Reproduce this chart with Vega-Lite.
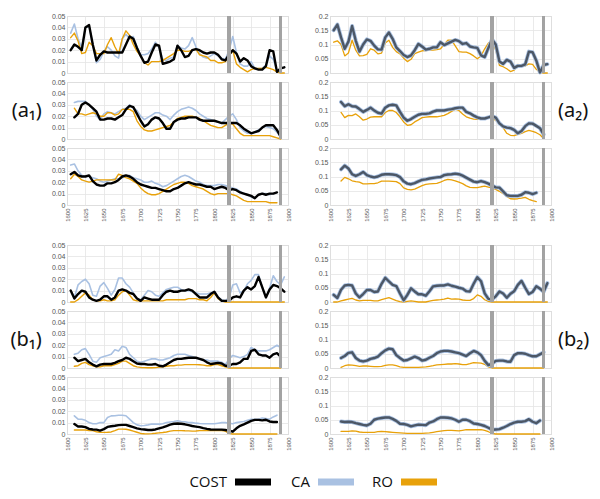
{
"$schema": "https://vega.github.io/schema/vega-lite/v6.json",
"background": "white",
"padding": {"left": 9, "top": 11, "right": 2, "bottom": 2},
"config": {
  "view": {"stroke": "#c4c4c4", "strokeWidth": 1},
  "axis": {"labelFont": "Liberation Sans", "labelFontSize": 7, "labelColor": "#555555", "gridColor": "#e4e4e4", "gridWidth": 0.8, "domain": false, "ticks": false, "labelPadding": 2, "titleFont": "Noto Sans", "titleFontSize": 20, "titleFontWeight": "normal", "titleColor": "#111111"},
  "line": {"strokeJoin": "round", "strokeCap": "round"}
},
"datasets": {"d": [
{"p":"a1_1","year":1605,"COST":0.020,"CA":0.035,"RO":0.031},
{"p":"a1_1","year":1610,"COST":0.025,"CA":0.043,"RO":0.035},
{"p":"a1_1","year":1615,"COST":0.023,"CA":0.030,"RO":0.028},
{"p":"a1_1","year":1620,"COST":0.020,"CA":0.022,"RO":0.017},
{"p":"a1_1","year":1625,"COST":0.040,"CA":0.040,"RO":0.018},
{"p":"a1_1","year":1630,"COST":0.042,"CA":0.041,"RO":0.027},
{"p":"a1_1","year":1635,"COST":0.025,"CA":0.025,"RO":0.024},
{"p":"a1_1","year":1640,"COST":0.011,"CA":0.009,"RO":0.017},
{"p":"a1_1","year":1645,"COST":0.016,"CA":0.012,"RO":0.017},
{"p":"a1_1","year":1650,"COST":0.019,"CA":0.019,"RO":0.017},
{"p":"a1_1","year":1655,"COST":0.018,"CA":0.023,"RO":0.025},
{"p":"a1_1","year":1660,"COST":0.018,"CA":0.020,"RO":0.031},
{"p":"a1_1","year":1665,"COST":0.018,"CA":0.015,"RO":0.023},
{"p":"a1_1","year":1670,"COST":0.018,"CA":0.013,"RO":0.017},
{"p":"a1_1","year":1675,"COST":0.018,"CA":0.030,"RO":0.030},
{"p":"a1_1","year":1680,"COST":0.025,"CA":0.034,"RO":0.037},
{"p":"a1_1","year":1685,"COST":0.032,"CA":0.030,"RO":0.033},
{"p":"a1_1","year":1690,"COST":0.030,"CA":0.032,"RO":0.025},
{"p":"a1_1","year":1695,"COST":0.022,"CA":0.023,"RO":0.019},
{"p":"a1_1","year":1700,"COST":0.015,"CA":0.016,"RO":0.015},
{"p":"a1_1","year":1705,"COST":0.009,"CA":0.016,"RO":0.009},
{"p":"a1_1","year":1710,"COST":0.010,"CA":0.017,"RO":0.007},
{"p":"a1_1","year":1715,"COST":0.018,"CA":0.021,"RO":0.010},
{"p":"a1_1","year":1720,"COST":0.025,"CA":0.027,"RO":0.010},
{"p":"a1_1","year":1725,"COST":0.024,"CA":0.022,"RO":0.010},
{"p":"a1_1","year":1730,"COST":0.008,"CA":0.012,"RO":0.011},
{"p":"a1_1","year":1735,"COST":0.009,"CA":0.011,"RO":0.013},
{"p":"a1_1","year":1740,"COST":0.010,"CA":0.013,"RO":0.015},
{"p":"a1_1","year":1745,"COST":0.012,"CA":0.014,"RO":0.017},
{"p":"a1_1","year":1750,"COST":0.024,"CA":0.024,"RO":0.020},
{"p":"a1_1","year":1755,"COST":0.020,"CA":0.022,"RO":0.020},
{"p":"a1_1","year":1760,"COST":0.014,"CA":0.021,"RO":0.019},
{"p":"a1_1","year":1765,"COST":0.015,"CA":0.024,"RO":0.019},
{"p":"a1_1","year":1770,"COST":0.020,"CA":0.031,"RO":0.020},
{"p":"a1_1","year":1775,"COST":0.021,"CA":0.023,"RO":0.021},
{"p":"a1_1","year":1780,"COST":0.020,"CA":0.017,"RO":0.016},
{"p":"a1_1","year":1785,"COST":0.018,"CA":0.014,"RO":0.015},
{"p":"a1_1","year":1790,"COST":0.017,"CA":0.013,"RO":0.014},
{"p":"a1_1","year":1795,"COST":0.018,"CA":0.015,"RO":0.011},
{"p":"a1_1","year":1800,"COST":0.018,"CA":0.017,"RO":0.011},
{"p":"a1_1","year":1805,"COST":0.016,"CA":0.015,"RO":0.009},
{"p":"a1_1","year":1810,"COST":0.012,"CA":0.013,"RO":0.009},
{"p":"a1_1","year":1815,"COST":0.011,"CA":0.012,"RO":0.010},
{"p":"a1_1","year":1820,"COST":0.016,"CA":0.020,"RO":0.015},
{"p":"a1_1","year":1825,"COST":0.020,"CA":0.032,"RO":0.020},
{"p":"a1_1","year":1830,"COST":0.017,"CA":0.018,"RO":0.008},
{"p":"a1_1","year":1835,"COST":0.010,"CA":0.008,"RO":0.005},
{"p":"a1_1","year":1840,"COST":0.013,"CA":0.006,"RO":0.003},
{"p":"a1_1","year":1845,"COST":0.011,"CA":0.006,"RO":0.001},
{"p":"a1_1","year":1850,"COST":0.006,"CA":0.010,"RO":0.003},
{"p":"a1_1","year":1855,"COST":0.004,"CA":0.004,"RO":0.004},
{"p":"a1_1","year":1860,"COST":0.003,"CA":0.004,"RO":0.004},
{"p":"a1_1","year":1865,"COST":0.003,"CA":0.004,"RO":0.004},
{"p":"a1_1","year":1870,"COST":0.006,"CA":0.007,"RO":0.005},
{"p":"a1_1","year":1875,"COST":0.020,"CA":0.015,"RO":0.004},
{"p":"a1_1","year":1880,"COST":0.019,"CA":0.012,"RO":0.003},
{"p":"a1_1","year":1885,"COST":0.001,"CA":0.002,"RO":0.001},
{"p":"a1_1","year":1890,"COST":0.004,"CA":0.004,"RO":0.000},
{"p":"a1_1","year":1895,"COST":0.005,"CA":0.005,"RO":0.000},
{"p":"a1_2","year":1610,"COST":0.019,"CA":0.032,"RO":0.027},
{"p":"a1_2","year":1615,"COST":0.022,"CA":0.033,"RO":0.022},
{"p":"a1_2","year":1620,"COST":0.030,"CA":0.033,"RO":0.022},
{"p":"a1_2","year":1625,"COST":0.032,"CA":0.033,"RO":0.021},
{"p":"a1_2","year":1630,"COST":0.030,"CA":0.030,"RO":0.022},
{"p":"a1_2","year":1635,"COST":0.027,"CA":0.026,"RO":0.023},
{"p":"a1_2","year":1640,"COST":0.024,"CA":0.020,"RO":0.022},
{"p":"a1_2","year":1645,"COST":0.017,"CA":0.017,"RO":0.020},
{"p":"a1_2","year":1650,"COST":0.017,"CA":0.022,"RO":0.020},
{"p":"a1_2","year":1655,"COST":0.018,"CA":0.024,"RO":0.023},
{"p":"a1_2","year":1660,"COST":0.018,"CA":0.023,"RO":0.023},
{"p":"a1_2","year":1665,"COST":0.017,"CA":0.022,"RO":0.021},
{"p":"a1_2","year":1670,"COST":0.019,"CA":0.024,"RO":0.022},
{"p":"a1_2","year":1675,"COST":0.021,"CA":0.026,"RO":0.026},
{"p":"a1_2","year":1680,"COST":0.026,"CA":0.027,"RO":0.026},
{"p":"a1_2","year":1685,"COST":0.029,"CA":0.030,"RO":0.026},
{"p":"a1_2","year":1690,"COST":0.028,"CA":0.027,"RO":0.024},
{"p":"a1_2","year":1695,"COST":0.022,"CA":0.025,"RO":0.016},
{"p":"a1_2","year":1700,"COST":0.016,"CA":0.020,"RO":0.011},
{"p":"a1_2","year":1705,"COST":0.011,"CA":0.017,"RO":0.008},
{"p":"a1_2","year":1710,"COST":0.013,"CA":0.019,"RO":0.007},
{"p":"a1_2","year":1715,"COST":0.017,"CA":0.021,"RO":0.007},
{"p":"a1_2","year":1720,"COST":0.019,"CA":0.023,"RO":0.008},
{"p":"a1_2","year":1725,"COST":0.018,"CA":0.023,"RO":0.009},
{"p":"a1_2","year":1730,"COST":0.014,"CA":0.021,"RO":0.010},
{"p":"a1_2","year":1735,"COST":0.009,"CA":0.020,"RO":0.011},
{"p":"a1_2","year":1740,"COST":0.009,"CA":0.017,"RO":0.012},
{"p":"a1_2","year":1745,"COST":0.015,"CA":0.021,"RO":0.015},
{"p":"a1_2","year":1750,"COST":0.017,"CA":0.024,"RO":0.018},
{"p":"a1_2","year":1755,"COST":0.018,"CA":0.026,"RO":0.019},
{"p":"a1_2","year":1760,"COST":0.018,"CA":0.027,"RO":0.020},
{"p":"a1_2","year":1765,"COST":0.019,"CA":0.028,"RO":0.020},
{"p":"a1_2","year":1770,"COST":0.019,"CA":0.027,"RO":0.020},
{"p":"a1_2","year":1775,"COST":0.019,"CA":0.025,"RO":0.019},
{"p":"a1_2","year":1780,"COST":0.017,"CA":0.022,"RO":0.018},
{"p":"a1_2","year":1785,"COST":0.016,"CA":0.020,"RO":0.016},
{"p":"a1_2","year":1790,"COST":0.016,"CA":0.018,"RO":0.014},
{"p":"a1_2","year":1795,"COST":0.016,"CA":0.017,"RO":0.012},
{"p":"a1_2","year":1800,"COST":0.016,"CA":0.016,"RO":0.011},
{"p":"a1_2","year":1805,"COST":0.015,"CA":0.015,"RO":0.010},
{"p":"a1_2","year":1810,"COST":0.014,"CA":0.014,"RO":0.010},
{"p":"a1_2","year":1815,"COST":0.014,"CA":0.017,"RO":0.012},
{"p":"a1_2","year":1820,"COST":0.014,"CA":0.020,"RO":0.014},
{"p":"a1_2","year":1825,"COST":0.014,"CA":0.022,"RO":0.013},
{"p":"a1_2","year":1830,"COST":0.014,"CA":0.017,"RO":0.009},
{"p":"a1_2","year":1835,"COST":0.012,"CA":0.010,"RO":0.005},
{"p":"a1_2","year":1840,"COST":0.009,"CA":0.007,"RO":0.003},
{"p":"a1_2","year":1845,"COST":0.007,"CA":0.005,"RO":0.003},
{"p":"a1_2","year":1850,"COST":0.005,"CA":0.005,"RO":0.003},
{"p":"a1_2","year":1855,"COST":0.006,"CA":0.006,"RO":0.003},
{"p":"a1_2","year":1860,"COST":0.007,"CA":0.008,"RO":0.003},
{"p":"a1_2","year":1865,"COST":0.010,"CA":0.010,"RO":0.003},
{"p":"a1_2","year":1870,"COST":0.012,"CA":0.011,"RO":0.003},
{"p":"a1_2","year":1875,"COST":0.012,"CA":0.010,"RO":0.003},
{"p":"a1_2","year":1880,"COST":0.012,"CA":0.009,"RO":0.002},
{"p":"a1_2","year":1885,"COST":0.008,"CA":0.006,"RO":0.001},
{"p":"a1_2","year":1890,"COST":0.002,"CA":0.002,"RO":0.000},
{"p":"a1_3","year":1605,"COST":0.027,"CA":0.035,"RO":0.023},
{"p":"a1_3","year":1610,"COST":0.029,"CA":0.036,"RO":0.027},
{"p":"a1_3","year":1615,"COST":0.026,"CA":0.030,"RO":0.025},
{"p":"a1_3","year":1620,"COST":0.025,"CA":0.026,"RO":0.022},
{"p":"a1_3","year":1625,"COST":0.025,"CA":0.025,"RO":0.021},
{"p":"a1_3","year":1630,"COST":0.026,"CA":0.025,"RO":0.020},
{"p":"a1_3","year":1635,"COST":0.021,"CA":0.024,"RO":0.021},
{"p":"a1_3","year":1640,"COST":0.018,"CA":0.023,"RO":0.022},
{"p":"a1_3","year":1645,"COST":0.017,"CA":0.021,"RO":0.022},
{"p":"a1_3","year":1650,"COST":0.017,"CA":0.020,"RO":0.022},
{"p":"a1_3","year":1655,"COST":0.019,"CA":0.021,"RO":0.022},
{"p":"a1_3","year":1660,"COST":0.019,"CA":0.022,"RO":0.022},
{"p":"a1_3","year":1665,"COST":0.020,"CA":0.023,"RO":0.022},
{"p":"a1_3","year":1670,"COST":0.022,"CA":0.023,"RO":0.027},
{"p":"a1_3","year":1675,"COST":0.025,"CA":0.024,"RO":0.026},
{"p":"a1_3","year":1680,"COST":0.026,"CA":0.025,"RO":0.024},
{"p":"a1_3","year":1685,"COST":0.025,"CA":0.026,"RO":0.023},
{"p":"a1_3","year":1690,"COST":0.023,"CA":0.024,"RO":0.021},
{"p":"a1_3","year":1695,"COST":0.020,"CA":0.023,"RO":0.019},
{"p":"a1_3","year":1700,"COST":0.018,"CA":0.022,"RO":0.015},
{"p":"a1_3","year":1705,"COST":0.017,"CA":0.020,"RO":0.012},
{"p":"a1_3","year":1710,"COST":0.016,"CA":0.020,"RO":0.010},
{"p":"a1_3","year":1715,"COST":0.015,"CA":0.021,"RO":0.009},
{"p":"a1_3","year":1720,"COST":0.015,"CA":0.019,"RO":0.009},
{"p":"a1_3","year":1725,"COST":0.014,"CA":0.018,"RO":0.010},
{"p":"a1_3","year":1730,"COST":0.013,"CA":0.016,"RO":0.012},
{"p":"a1_3","year":1735,"COST":0.012,"CA":0.017,"RO":0.014},
{"p":"a1_3","year":1740,"COST":0.012,"CA":0.019,"RO":0.016},
{"p":"a1_3","year":1745,"COST":0.014,"CA":0.021,"RO":0.018},
{"p":"a1_3","year":1750,"COST":0.015,"CA":0.023,"RO":0.019},
{"p":"a1_3","year":1755,"COST":0.017,"CA":0.025,"RO":0.020},
{"p":"a1_3","year":1760,"COST":0.019,"CA":0.026,"RO":0.020},
{"p":"a1_3","year":1765,"COST":0.020,"CA":0.025,"RO":0.019},
{"p":"a1_3","year":1770,"COST":0.019,"CA":0.023,"RO":0.017},
{"p":"a1_3","year":1775,"COST":0.018,"CA":0.021,"RO":0.016},
{"p":"a1_3","year":1780,"COST":0.018,"CA":0.020,"RO":0.015},
{"p":"a1_3","year":1785,"COST":0.017,"CA":0.018,"RO":0.014},
{"p":"a1_3","year":1790,"COST":0.016,"CA":0.017,"RO":0.012},
{"p":"a1_3","year":1795,"COST":0.016,"CA":0.017,"RO":0.010},
{"p":"a1_3","year":1800,"COST":0.014,"CA":0.017,"RO":0.009},
{"p":"a1_3","year":1805,"COST":0.015,"CA":0.018,"RO":0.010},
{"p":"a1_3","year":1810,"COST":0.016,"CA":0.018,"RO":0.010},
{"p":"a1_3","year":1815,"COST":0.015,"CA":0.017,"RO":0.010},
{"p":"a1_3","year":1820,"COST":0.013,"CA":0.016,"RO":0.010},
{"p":"a1_3","year":1825,"COST":0.014,"CA":0.015,"RO":0.009},
{"p":"a1_3","year":1830,"COST":0.013,"CA":0.014,"RO":0.008},
{"p":"a1_3","year":1835,"COST":0.011,"CA":0.012,"RO":0.006},
{"p":"a1_3","year":1840,"COST":0.010,"CA":0.010,"RO":0.004},
{"p":"a1_3","year":1845,"COST":0.009,"CA":0.009,"RO":0.003},
{"p":"a1_3","year":1850,"COST":0.008,"CA":0.007,"RO":0.003},
{"p":"a1_3","year":1855,"COST":0.006,"CA":0.006,"RO":0.003},
{"p":"a1_3","year":1860,"COST":0.009,"CA":0.009,"RO":0.003},
{"p":"a1_3","year":1865,"COST":0.010,"CA":0.010,"RO":0.003},
{"p":"a1_3","year":1870,"COST":0.009,"CA":0.010,"RO":0.003},
{"p":"a1_3","year":1875,"COST":0.010,"CA":0.009,"RO":0.002},
{"p":"a1_3","year":1880,"COST":0.010,"CA":0.010,"RO":0.002},
{"p":"a1_3","year":1885,"COST":0.011,"CA":0.011,"RO":0.002},
{"p":"a2_1","year":1605,"COST":0.150,"CA":0.150,"RO":0.108},
{"p":"a2_1","year":1610,"COST":0.170,"CA":0.170,"RO":0.113},
{"p":"a2_1","year":1615,"COST":0.125,"CA":0.125,"RO":0.100},
{"p":"a2_1","year":1620,"COST":0.085,"CA":0.085,"RO":0.060},
{"p":"a2_1","year":1625,"COST":0.110,"CA":0.110,"RO":0.070},
{"p":"a2_1","year":1630,"COST":0.165,"CA":0.165,"RO":0.115},
{"p":"a2_1","year":1635,"COST":0.113,"CA":0.113,"RO":0.080},
{"p":"a2_1","year":1640,"COST":0.075,"CA":0.075,"RO":0.060},
{"p":"a2_1","year":1645,"COST":0.100,"CA":0.100,"RO":0.061},
{"p":"a2_1","year":1650,"COST":0.118,"CA":0.118,"RO":0.065},
{"p":"a2_1","year":1655,"COST":0.113,"CA":0.113,"RO":0.085},
{"p":"a2_1","year":1660,"COST":0.096,"CA":0.096,"RO":0.080},
{"p":"a2_1","year":1665,"COST":0.083,"CA":0.083,"RO":0.067},
{"p":"a2_1","year":1670,"COST":0.082,"CA":0.082,"RO":0.070},
{"p":"a2_1","year":1675,"COST":0.125,"CA":0.125,"RO":0.105},
{"p":"a2_1","year":1680,"COST":0.142,"CA":0.142,"RO":0.115},
{"p":"a2_1","year":1685,"COST":0.120,"CA":0.120,"RO":0.090},
{"p":"a2_1","year":1690,"COST":0.090,"CA":0.090,"RO":0.075},
{"p":"a2_1","year":1695,"COST":0.077,"CA":0.077,"RO":0.067},
{"p":"a2_1","year":1700,"COST":0.063,"CA":0.063,"RO":0.052},
{"p":"a2_1","year":1705,"COST":0.056,"CA":0.056,"RO":0.040},
{"p":"a2_1","year":1710,"COST":0.062,"CA":0.062,"RO":0.048},
{"p":"a2_1","year":1715,"COST":0.080,"CA":0.080,"RO":0.068},
{"p":"a2_1","year":1720,"COST":0.102,"CA":0.102,"RO":0.073},
{"p":"a2_1","year":1725,"COST":0.093,"CA":0.093,"RO":0.078},
{"p":"a2_1","year":1730,"COST":0.082,"CA":0.082,"RO":0.079},
{"p":"a2_1","year":1735,"COST":0.085,"CA":0.085,"RO":0.080},
{"p":"a2_1","year":1740,"COST":0.090,"CA":0.090,"RO":0.080},
{"p":"a2_1","year":1745,"COST":0.090,"CA":0.090,"RO":0.082},
{"p":"a2_1","year":1750,"COST":0.108,"CA":0.108,"RO":0.085},
{"p":"a2_1","year":1755,"COST":0.098,"CA":0.098,"RO":0.100},
{"p":"a2_1","year":1760,"COST":0.104,"CA":0.104,"RO":0.115},
{"p":"a2_1","year":1765,"COST":0.110,"CA":0.110,"RO":0.115},
{"p":"a2_1","year":1770,"COST":0.116,"CA":0.116,"RO":0.095},
{"p":"a2_1","year":1775,"COST":0.112,"CA":0.112,"RO":0.075},
{"p":"a2_1","year":1780,"COST":0.102,"CA":0.102,"RO":0.073},
{"p":"a2_1","year":1785,"COST":0.105,"CA":0.105,"RO":0.073},
{"p":"a2_1","year":1790,"COST":0.093,"CA":0.093,"RO":0.068},
{"p":"a2_1","year":1795,"COST":0.090,"CA":0.090,"RO":0.060},
{"p":"a2_1","year":1800,"COST":0.088,"CA":0.088,"RO":0.050},
{"p":"a2_1","year":1805,"COST":0.062,"CA":0.062,"RO":0.060},
{"p":"a2_1","year":1810,"COST":0.056,"CA":0.056,"RO":0.085},
{"p":"a2_1","year":1815,"COST":0.088,"CA":0.088,"RO":0.105},
{"p":"a2_1","year":1820,"COST":0.118,"CA":0.118,"RO":0.113},
{"p":"a2_1","year":1825,"COST":0.100,"CA":0.100,"RO":0.080},
{"p":"a2_1","year":1830,"COST":0.040,"CA":0.040,"RO":0.027},
{"p":"a2_1","year":1835,"COST":0.032,"CA":0.032,"RO":0.022},
{"p":"a2_1","year":1840,"COST":0.046,"CA":0.046,"RO":0.015},
{"p":"a2_1","year":1845,"COST":0.040,"CA":0.040,"RO":0.005},
{"p":"a2_1","year":1850,"COST":0.018,"CA":0.018,"RO":0.010},
{"p":"a2_1","year":1855,"COST":0.025,"CA":0.025,"RO":0.030},
{"p":"a2_1","year":1860,"COST":0.025,"CA":0.025,"RO":0.025},
{"p":"a2_1","year":1865,"COST":0.030,"CA":0.030,"RO":0.025},
{"p":"a2_1","year":1870,"COST":0.075,"CA":0.075,"RO":0.032},
{"p":"a2_1","year":1875,"COST":0.073,"CA":0.073,"RO":0.030},
{"p":"a2_1","year":1880,"COST":0.044,"CA":0.044,"RO":0.013},
{"p":"a2_1","year":1885,"COST":0.002,"CA":0.002,"RO":0.003},
{"p":"a2_1","year":1890,"COST":0.028,"CA":0.028,"RO":0.000},
{"p":"a2_1","year":1895,"COST":0.031,"CA":0.031,"RO":0.000},
{"p":"a2_2","year":1615,"COST":0.130,"CA":0.130,"RO":0.093},
{"p":"a2_2","year":1620,"COST":0.115,"CA":0.115,"RO":0.075},
{"p":"a2_2","year":1625,"COST":0.122,"CA":0.122,"RO":0.083},
{"p":"a2_2","year":1630,"COST":0.115,"CA":0.115,"RO":0.082},
{"p":"a2_2","year":1635,"COST":0.114,"CA":0.114,"RO":0.088},
{"p":"a2_2","year":1640,"COST":0.105,"CA":0.105,"RO":0.078},
{"p":"a2_2","year":1645,"COST":0.095,"CA":0.095,"RO":0.066},
{"p":"a2_2","year":1650,"COST":0.102,"CA":0.102,"RO":0.070},
{"p":"a2_2","year":1655,"COST":0.110,"CA":0.110,"RO":0.077},
{"p":"a2_2","year":1660,"COST":0.100,"CA":0.100,"RO":0.078},
{"p":"a2_2","year":1665,"COST":0.092,"CA":0.092,"RO":0.078},
{"p":"a2_2","year":1670,"COST":0.089,"CA":0.089,"RO":0.078},
{"p":"a2_2","year":1675,"COST":0.110,"CA":0.110,"RO":0.093},
{"p":"a2_2","year":1680,"COST":0.118,"CA":0.118,"RO":0.100},
{"p":"a2_2","year":1685,"COST":0.120,"CA":0.120,"RO":0.100},
{"p":"a2_2","year":1690,"COST":0.118,"CA":0.118,"RO":0.093},
{"p":"a2_2","year":1695,"COST":0.095,"CA":0.095,"RO":0.078},
{"p":"a2_2","year":1700,"COST":0.075,"CA":0.075,"RO":0.060},
{"p":"a2_2","year":1705,"COST":0.064,"CA":0.064,"RO":0.048},
{"p":"a2_2","year":1710,"COST":0.070,"CA":0.070,"RO":0.050},
{"p":"a2_2","year":1715,"COST":0.078,"CA":0.078,"RO":0.060},
{"p":"a2_2","year":1720,"COST":0.085,"CA":0.085,"RO":0.067},
{"p":"a2_2","year":1725,"COST":0.088,"CA":0.088,"RO":0.075},
{"p":"a2_2","year":1730,"COST":0.088,"CA":0.088,"RO":0.077},
{"p":"a2_2","year":1735,"COST":0.090,"CA":0.090,"RO":0.078},
{"p":"a2_2","year":1740,"COST":0.096,"CA":0.096,"RO":0.078},
{"p":"a2_2","year":1745,"COST":0.100,"CA":0.100,"RO":0.078},
{"p":"a2_2","year":1750,"COST":0.100,"CA":0.100,"RO":0.080},
{"p":"a2_2","year":1755,"COST":0.100,"CA":0.100,"RO":0.083},
{"p":"a2_2","year":1760,"COST":0.103,"CA":0.103,"RO":0.089},
{"p":"a2_2","year":1765,"COST":0.105,"CA":0.105,"RO":0.097},
{"p":"a2_2","year":1770,"COST":0.108,"CA":0.108,"RO":0.105},
{"p":"a2_2","year":1775,"COST":0.110,"CA":0.110,"RO":0.100},
{"p":"a2_2","year":1780,"COST":0.110,"CA":0.110,"RO":0.088},
{"p":"a2_2","year":1785,"COST":0.095,"CA":0.095,"RO":0.078},
{"p":"a2_2","year":1790,"COST":0.090,"CA":0.090,"RO":0.073},
{"p":"a2_2","year":1795,"COST":0.082,"CA":0.082,"RO":0.070},
{"p":"a2_2","year":1800,"COST":0.076,"CA":0.076,"RO":0.069},
{"p":"a2_2","year":1805,"COST":0.072,"CA":0.072,"RO":0.070},
{"p":"a2_2","year":1810,"COST":0.072,"CA":0.072,"RO":0.075},
{"p":"a2_2","year":1815,"COST":0.076,"CA":0.076,"RO":0.078},
{"p":"a2_2","year":1820,"COST":0.080,"CA":0.080,"RO":0.075},
{"p":"a2_2","year":1825,"COST":0.075,"CA":0.075,"RO":0.065},
{"p":"a2_2","year":1830,"COST":0.055,"CA":0.055,"RO":0.055},
{"p":"a2_2","year":1835,"COST":0.044,"CA":0.044,"RO":0.040},
{"p":"a2_2","year":1840,"COST":0.040,"CA":0.040,"RO":0.020},
{"p":"a2_2","year":1845,"COST":0.038,"CA":0.038,"RO":0.013},
{"p":"a2_2","year":1850,"COST":0.032,"CA":0.032,"RO":0.012},
{"p":"a2_2","year":1855,"COST":0.020,"CA":0.020,"RO":0.016},
{"p":"a2_2","year":1860,"COST":0.028,"CA":0.028,"RO":0.020},
{"p":"a2_2","year":1865,"COST":0.045,"CA":0.045,"RO":0.026},
{"p":"a2_2","year":1870,"COST":0.055,"CA":0.055,"RO":0.030},
{"p":"a2_2","year":1875,"COST":0.054,"CA":0.054,"RO":0.027},
{"p":"a2_2","year":1880,"COST":0.046,"CA":0.046,"RO":0.022},
{"p":"a2_2","year":1885,"COST":0.038,"CA":0.038,"RO":0.015},
{"p":"a2_2","year":1890,"COST":0.016,"CA":0.016,"RO":0.002},
{"p":"a2_3","year":1615,"COST":0.125,"CA":0.125,"RO":0.084},
{"p":"a2_3","year":1620,"COST":0.138,"CA":0.138,"RO":0.097},
{"p":"a2_3","year":1625,"COST":0.128,"CA":0.128,"RO":0.092},
{"p":"a2_3","year":1630,"COST":0.108,"CA":0.108,"RO":0.085},
{"p":"a2_3","year":1635,"COST":0.102,"CA":0.102,"RO":0.082},
{"p":"a2_3","year":1640,"COST":0.108,"CA":0.108,"RO":0.080},
{"p":"a2_3","year":1645,"COST":0.116,"CA":0.116,"RO":0.074},
{"p":"a2_3","year":1650,"COST":0.105,"CA":0.105,"RO":0.074},
{"p":"a2_3","year":1655,"COST":0.100,"CA":0.100,"RO":0.075},
{"p":"a2_3","year":1660,"COST":0.097,"CA":0.097,"RO":0.075},
{"p":"a2_3","year":1665,"COST":0.100,"CA":0.100,"RO":0.078},
{"p":"a2_3","year":1670,"COST":0.106,"CA":0.106,"RO":0.084},
{"p":"a2_3","year":1675,"COST":0.108,"CA":0.108,"RO":0.084},
{"p":"a2_3","year":1680,"COST":0.108,"CA":0.108,"RO":0.084},
{"p":"a2_3","year":1685,"COST":0.107,"CA":0.107,"RO":0.083},
{"p":"a2_3","year":1690,"COST":0.105,"CA":0.105,"RO":0.082},
{"p":"a2_3","year":1695,"COST":0.098,"CA":0.098,"RO":0.075},
{"p":"a2_3","year":1700,"COST":0.083,"CA":0.083,"RO":0.060},
{"p":"a2_3","year":1705,"COST":0.075,"CA":0.075,"RO":0.055},
{"p":"a2_3","year":1710,"COST":0.073,"CA":0.073,"RO":0.053},
{"p":"a2_3","year":1715,"COST":0.077,"CA":0.077,"RO":0.056},
{"p":"a2_3","year":1720,"COST":0.083,"CA":0.083,"RO":0.062},
{"p":"a2_3","year":1725,"COST":0.088,"CA":0.088,"RO":0.068},
{"p":"a2_3","year":1730,"COST":0.090,"CA":0.090,"RO":0.072},
{"p":"a2_3","year":1735,"COST":0.093,"CA":0.093,"RO":0.074},
{"p":"a2_3","year":1740,"COST":0.095,"CA":0.095,"RO":0.075},
{"p":"a2_3","year":1745,"COST":0.097,"CA":0.097,"RO":0.076},
{"p":"a2_3","year":1750,"COST":0.098,"CA":0.098,"RO":0.080},
{"p":"a2_3","year":1755,"COST":0.105,"CA":0.105,"RO":0.086},
{"p":"a2_3","year":1760,"COST":0.107,"CA":0.107,"RO":0.090},
{"p":"a2_3","year":1765,"COST":0.108,"CA":0.108,"RO":0.088},
{"p":"a2_3","year":1770,"COST":0.110,"CA":0.110,"RO":0.085},
{"p":"a2_3","year":1775,"COST":0.108,"CA":0.108,"RO":0.080},
{"p":"a2_3","year":1780,"COST":0.103,"CA":0.103,"RO":0.075},
{"p":"a2_3","year":1785,"COST":0.096,"CA":0.096,"RO":0.067},
{"p":"a2_3","year":1790,"COST":0.089,"CA":0.089,"RO":0.062},
{"p":"a2_3","year":1795,"COST":0.082,"CA":0.082,"RO":0.061},
{"p":"a2_3","year":1800,"COST":0.080,"CA":0.080,"RO":0.061},
{"p":"a2_3","year":1805,"COST":0.084,"CA":0.084,"RO":0.064},
{"p":"a2_3","year":1810,"COST":0.080,"CA":0.080,"RO":0.066},
{"p":"a2_3","year":1815,"COST":0.075,"CA":0.075,"RO":0.063},
{"p":"a2_3","year":1820,"COST":0.068,"CA":0.068,"RO":0.060},
{"p":"a2_3","year":1825,"COST":0.062,"CA":0.062,"RO":0.055},
{"p":"a2_3","year":1830,"COST":0.061,"CA":0.061,"RO":0.048},
{"p":"a2_3","year":1835,"COST":0.048,"CA":0.048,"RO":0.040},
{"p":"a2_3","year":1840,"COST":0.034,"CA":0.034,"RO":0.030},
{"p":"a2_3","year":1845,"COST":0.032,"CA":0.032,"RO":0.022},
{"p":"a2_3","year":1850,"COST":0.032,"CA":0.032,"RO":0.021},
{"p":"a2_3","year":1855,"COST":0.032,"CA":0.032,"RO":0.022},
{"p":"a2_3","year":1860,"COST":0.036,"CA":0.036,"RO":0.024},
{"p":"a2_3","year":1865,"COST":0.045,"CA":0.045,"RO":0.027},
{"p":"a2_3","year":1870,"COST":0.043,"CA":0.043,"RO":0.020},
{"p":"a2_3","year":1875,"COST":0.038,"CA":0.038,"RO":0.015},
{"p":"a2_3","year":1880,"COST":0.043,"CA":0.043,"RO":0.012},
{"p":"b1_1","year":1605,"COST":0.010,"CA":0.010,"RO":0.000},
{"p":"b1_1","year":1610,"COST":0.003,"CA":0.004,"RO":0.000},
{"p":"b1_1","year":1615,"COST":0.007,"CA":0.015,"RO":0.002},
{"p":"b1_1","year":1620,"COST":0.010,"CA":0.018,"RO":0.005},
{"p":"b1_1","year":1625,"COST":0.009,"CA":0.020,"RO":0.008},
{"p":"b1_1","year":1630,"COST":0.004,"CA":0.016,"RO":0.006},
{"p":"b1_1","year":1635,"COST":0.002,"CA":0.006,"RO":0.002},
{"p":"b1_1","year":1640,"COST":0.001,"CA":0.005,"RO":0.001},
{"p":"b1_1","year":1645,"COST":0.002,"CA":0.014,"RO":0.001},
{"p":"b1_1","year":1650,"COST":0.005,"CA":0.017,"RO":0.002},
{"p":"b1_1","year":1655,"COST":0.005,"CA":0.012,"RO":0.001},
{"p":"b1_1","year":1660,"COST":0.002,"CA":0.006,"RO":0.001},
{"p":"b1_1","year":1665,"COST":0.004,"CA":0.011,"RO":0.002},
{"p":"b1_1","year":1670,"COST":0.010,"CA":0.021,"RO":0.006},
{"p":"b1_1","year":1675,"COST":0.011,"CA":0.021,"RO":0.009},
{"p":"b1_1","year":1680,"COST":0.010,"CA":0.016,"RO":0.010},
{"p":"b1_1","year":1685,"COST":0.008,"CA":0.013,"RO":0.006},
{"p":"b1_1","year":1690,"COST":0.007,"CA":0.008,"RO":0.002},
{"p":"b1_1","year":1695,"COST":0.003,"CA":0.003,"RO":0.001},
{"p":"b1_1","year":1700,"COST":0.001,"CA":0.002,"RO":0.001},
{"p":"b1_1","year":1705,"COST":0.004,"CA":0.006,"RO":0.001},
{"p":"b1_1","year":1710,"COST":0.003,"CA":0.010,"RO":0.001},
{"p":"b1_1","year":1715,"COST":0.002,"CA":0.009,"RO":0.001},
{"p":"b1_1","year":1720,"COST":0.002,"CA":0.006,"RO":0.001},
{"p":"b1_1","year":1725,"COST":0.002,"CA":0.005,"RO":0.001},
{"p":"b1_1","year":1730,"COST":0.006,"CA":0.008,"RO":0.001},
{"p":"b1_1","year":1735,"COST":0.009,"CA":0.011,"RO":0.002},
{"p":"b1_1","year":1740,"COST":0.010,"CA":0.012,"RO":0.002},
{"p":"b1_1","year":1745,"COST":0.009,"CA":0.013,"RO":0.002},
{"p":"b1_1","year":1750,"COST":0.009,"CA":0.013,"RO":0.002},
{"p":"b1_1","year":1755,"COST":0.010,"CA":0.011,"RO":0.002},
{"p":"b1_1","year":1760,"COST":0.010,"CA":0.010,"RO":0.002},
{"p":"b1_1","year":1765,"COST":0.011,"CA":0.010,"RO":0.003},
{"p":"b1_1","year":1770,"COST":0.010,"CA":0.009,"RO":0.003},
{"p":"b1_1","year":1775,"COST":0.007,"CA":0.008,"RO":0.003},
{"p":"b1_1","year":1780,"COST":0.004,"CA":0.007,"RO":0.002},
{"p":"b1_1","year":1785,"COST":0.004,"CA":0.007,"RO":0.002},
{"p":"b1_1","year":1790,"COST":0.004,"CA":0.007,"RO":0.001},
{"p":"b1_1","year":1795,"COST":0.007,"CA":0.008,"RO":0.004},
{"p":"b1_1","year":1800,"COST":0.009,"CA":0.009,"RO":0.008},
{"p":"b1_1","year":1805,"COST":0.004,"CA":0.004,"RO":0.003},
{"p":"b1_1","year":1810,"COST":0.001,"CA":0.002,"RO":0.001},
{"p":"b1_1","year":1815,"COST":0.001,"CA":0.001,"RO":0.000},
{"p":"b1_1","year":1820,"COST":0.001,"CA":0.004,"RO":0.000},
{"p":"b1_1","year":1825,"COST":0.004,"CA":0.015,"RO":0.000},
{"p":"b1_1","year":1830,"COST":0.005,"CA":0.016,"RO":0.000},
{"p":"b1_1","year":1835,"COST":0.004,"CA":0.008,"RO":0.000},
{"p":"b1_1","year":1840,"COST":0.010,"CA":0.010,"RO":0.000},
{"p":"b1_1","year":1845,"COST":0.013,"CA":0.016,"RO":0.000},
{"p":"b1_1","year":1850,"COST":0.011,"CA":0.019,"RO":0.000},
{"p":"b1_1","year":1855,"COST":0.014,"CA":0.024,"RO":0.000},
{"p":"b1_1","year":1860,"COST":0.022,"CA":0.024,"RO":0.000},
{"p":"b1_1","year":1865,"COST":0.013,"CA":0.013,"RO":0.000},
{"p":"b1_1","year":1870,"COST":0.004,"CA":0.004,"RO":0.000},
{"p":"b1_1","year":1875,"COST":0.011,"CA":0.012,"RO":0.000},
{"p":"b1_1","year":1880,"COST":0.015,"CA":0.023,"RO":0.000},
{"p":"b1_1","year":1885,"COST":0.014,"CA":0.018,"RO":0.000},
{"p":"b1_1","year":1890,"COST":0.012,"CA":0.015,"RO":0.000},
{"p":"b1_1","year":1895,"COST":0.009,"CA":0.022,"RO":0.000},
{"p":"b1_2","year":1610,"COST":0.009,"CA":0.012,"RO":0.0015},
{"p":"b1_2","year":1615,"COST":0.006,"CA":0.013,"RO":0.002},
{"p":"b1_2","year":1620,"COST":0.007,"CA":0.016,"RO":0.004},
{"p":"b1_2","year":1625,"COST":0.008,"CA":0.017,"RO":0.005},
{"p":"b1_2","year":1630,"COST":0.005,"CA":0.012,"RO":0.003},
{"p":"b1_2","year":1635,"COST":0.003,"CA":0.006,"RO":0.002},
{"p":"b1_2","year":1640,"COST":0.0015,"CA":0.005,"RO":0.001},
{"p":"b1_2","year":1645,"COST":0.003,"CA":0.009,"RO":0.001},
{"p":"b1_2","year":1650,"COST":0.0035,"CA":0.010,"RO":0.002},
{"p":"b1_2","year":1655,"COST":0.0035,"CA":0.011,"RO":0.002},
{"p":"b1_2","year":1660,"COST":0.0035,"CA":0.012,"RO":0.002},
{"p":"b1_2","year":1665,"COST":0.0045,"CA":0.016,"RO":0.003},
{"p":"b1_2","year":1670,"COST":0.006,"CA":0.015,"RO":0.004},
{"p":"b1_2","year":1675,"COST":0.007,"CA":0.019,"RO":0.006},
{"p":"b1_2","year":1680,"COST":0.009,"CA":0.018,"RO":0.006},
{"p":"b1_2","year":1685,"COST":0.008,"CA":0.012,"RO":0.004},
{"p":"b1_2","year":1690,"COST":0.006,"CA":0.009,"RO":0.002},
{"p":"b1_2","year":1695,"COST":0.004,"CA":0.006,"RO":0.001},
{"p":"b1_2","year":1700,"COST":0.0035,"CA":0.005,"RO":0.0005},
{"p":"b1_2","year":1705,"COST":0.0035,"CA":0.006,"RO":0.0003},
{"p":"b1_2","year":1710,"COST":0.003,"CA":0.007,"RO":0.0002},
{"p":"b1_2","year":1715,"COST":0.003,"CA":0.008,"RO":0.0002},
{"p":"b1_2","year":1720,"COST":0.0035,"CA":0.008,"RO":0.0003},
{"p":"b1_2","year":1725,"COST":0.002,"CA":0.007,"RO":0.0008},
{"p":"b1_2","year":1730,"COST":0.0015,"CA":0.007,"RO":0.001},
{"p":"b1_2","year":1735,"COST":0.003,"CA":0.008,"RO":0.0015},
{"p":"b1_2","year":1740,"COST":0.005,"CA":0.009,"RO":0.002},
{"p":"b1_2","year":1745,"COST":0.007,"CA":0.011,"RO":0.002},
{"p":"b1_2","year":1750,"COST":0.008,"CA":0.012,"RO":0.0025},
{"p":"b1_2","year":1755,"COST":0.008,"CA":0.012,"RO":0.0025},
{"p":"b1_2","year":1760,"COST":0.0085,"CA":0.012,"RO":0.003},
{"p":"b1_2","year":1765,"COST":0.009,"CA":0.011,"RO":0.003},
{"p":"b1_2","year":1770,"COST":0.009,"CA":0.010,"RO":0.003},
{"p":"b1_2","year":1775,"COST":0.009,"CA":0.009,"RO":0.003},
{"p":"b1_2","year":1780,"COST":0.008,"CA":0.008,"RO":0.0028},
{"p":"b1_2","year":1785,"COST":0.007,"CA":0.007,"RO":0.0025},
{"p":"b1_2","year":1790,"COST":0.005,"CA":0.007,"RO":0.002},
{"p":"b1_2","year":1795,"COST":0.0035,"CA":0.006,"RO":0.002},
{"p":"b1_2","year":1800,"COST":0.004,"CA":0.006,"RO":0.003},
{"p":"b1_2","year":1805,"COST":0.0045,"CA":0.006,"RO":0.003},
{"p":"b1_2","year":1810,"COST":0.004,"CA":0.005,"RO":0.002},
{"p":"b1_2","year":1815,"COST":0.002,"CA":0.003,"RO":0.001},
{"p":"b1_2","year":1820,"COST":0.002,"CA":0.008,"RO":0.000},
{"p":"b1_2","year":1825,"COST":0.0035,"CA":0.011,"RO":0.000},
{"p":"b1_2","year":1830,"COST":0.0035,"CA":0.010,"RO":0.000},
{"p":"b1_2","year":1835,"COST":0.005,"CA":0.009,"RO":0.000},
{"p":"b1_2","year":1840,"COST":0.008,"CA":0.010,"RO":0.000},
{"p":"b1_2","year":1845,"COST":0.008,"CA":0.012,"RO":0.000},
{"p":"b1_2","year":1850,"COST":0.015,"CA":0.018,"RO":0.000},
{"p":"b1_2","year":1855,"COST":0.016,"CA":0.016,"RO":0.000},
{"p":"b1_2","year":1860,"COST":0.012,"CA":0.015,"RO":0.000},
{"p":"b1_2","year":1865,"COST":0.011,"CA":0.015,"RO":0.000},
{"p":"b1_2","year":1870,"COST":0.011,"CA":0.015,"RO":0.000},
{"p":"b1_2","year":1875,"COST":0.009,"CA":0.016,"RO":0.000},
{"p":"b1_2","year":1880,"COST":0.012,"CA":0.018,"RO":0.000},
{"p":"b1_2","year":1885,"COST":0.013,"CA":0.020,"RO":0.000},
{"p":"b1_2","year":1890,"COST":0.010,"CA":0.018,"RO":0.000},
{"p":"b1_3","year":1610,"COST":0.0087,"CA":0.0159,"RO":0.0035},
{"p":"b1_3","year":1615,"COST":0.0066,"CA":0.013,"RO":0.0035},
{"p":"b1_3","year":1620,"COST":0.0066,"CA":0.013,"RO":0.0035},
{"p":"b1_3","year":1625,"COST":0.006,"CA":0.012,"RO":0.0035},
{"p":"b1_3","year":1630,"COST":0.0045,"CA":0.010,"RO":0.003},
{"p":"b1_3","year":1635,"COST":0.004,"CA":0.009,"RO":0.003},
{"p":"b1_3","year":1640,"COST":0.0038,"CA":0.009,"RO":0.002},
{"p":"b1_3","year":1645,"COST":0.003,"CA":0.010,"RO":0.0015},
{"p":"b1_3","year":1650,"COST":0.0043,"CA":0.010,"RO":0.0014},
{"p":"b1_3","year":1655,"COST":0.0062,"CA":0.0145,"RO":0.0015},
{"p":"b1_3","year":1660,"COST":0.0068,"CA":0.0159,"RO":0.0018},
{"p":"b1_3","year":1665,"COST":0.0072,"CA":0.016,"RO":0.003},
{"p":"b1_3","year":1670,"COST":0.0078,"CA":0.0165,"RO":0.0043},
{"p":"b1_3","year":1675,"COST":0.008,"CA":0.0165,"RO":0.0043},
{"p":"b1_3","year":1680,"COST":0.008,"CA":0.016,"RO":0.0042},
{"p":"b1_3","year":1685,"COST":0.007,"CA":0.013,"RO":0.0035},
{"p":"b1_3","year":1690,"COST":0.006,"CA":0.010,"RO":0.0025},
{"p":"b1_3","year":1695,"COST":0.005,"CA":0.008,"RO":0.0015},
{"p":"b1_3","year":1700,"COST":0.0043,"CA":0.0072,"RO":0.0005},
{"p":"b1_3","year":1705,"COST":0.004,"CA":0.0075,"RO":0.0002},
{"p":"b1_3","year":1710,"COST":0.0035,"CA":0.008,"RO":0.0001},
{"p":"b1_3","year":1715,"COST":0.0035,"CA":0.0087,"RO":0.0003},
{"p":"b1_3","year":1720,"COST":0.004,"CA":0.0087,"RO":0.0006},
{"p":"b1_3","year":1725,"COST":0.005,"CA":0.0087,"RO":0.001},
{"p":"b1_3","year":1730,"COST":0.0058,"CA":0.009,"RO":0.0013},
{"p":"b1_3","year":1735,"COST":0.007,"CA":0.010,"RO":0.0018},
{"p":"b1_3","year":1740,"COST":0.0082,"CA":0.0105,"RO":0.0025},
{"p":"b1_3","year":1745,"COST":0.009,"CA":0.011,"RO":0.003},
{"p":"b1_3","year":1750,"COST":0.0092,"CA":0.0116,"RO":0.003},
{"p":"b1_3","year":1755,"COST":0.009,"CA":0.011,"RO":0.003},
{"p":"b1_3","year":1760,"COST":0.0085,"CA":0.0107,"RO":0.0028},
{"p":"b1_3","year":1765,"COST":0.0078,"CA":0.010,"RO":0.0027},
{"p":"b1_3","year":1770,"COST":0.007,"CA":0.010,"RO":0.0025},
{"p":"b1_3","year":1775,"COST":0.0065,"CA":0.0095,"RO":0.0026},
{"p":"b1_3","year":1780,"COST":0.006,"CA":0.0092,"RO":0.003},
{"p":"b1_3","year":1785,"COST":0.0052,"CA":0.009,"RO":0.003},
{"p":"b1_3","year":1790,"COST":0.0045,"CA":0.009,"RO":0.003},
{"p":"b1_3","year":1795,"COST":0.004,"CA":0.009,"RO":0.003},
{"p":"b1_3","year":1800,"COST":0.0038,"CA":0.009,"RO":0.003},
{"p":"b1_3","year":1805,"COST":0.0038,"CA":0.0095,"RO":0.003},
{"p":"b1_3","year":1810,"COST":0.0038,"CA":0.010,"RO":0.003},
{"p":"b1_3","year":1815,"COST":0.0035,"CA":0.010,"RO":0.0025},
{"p":"b1_3","year":1820,"COST":0.003,"CA":0.0095,"RO":0.0005},
{"p":"b1_3","year":1825,"COST":0.002,"CA":0.009,"RO":0.000},
{"p":"b1_3","year":1830,"COST":0.005,"CA":0.010,"RO":0.000},
{"p":"b1_3","year":1835,"COST":0.0072,"CA":0.0105,"RO":0.000},
{"p":"b1_3","year":1840,"COST":0.0085,"CA":0.011,"RO":0.000},
{"p":"b1_3","year":1845,"COST":0.010,"CA":0.012,"RO":0.000},
{"p":"b1_3","year":1850,"COST":0.0115,"CA":0.013,"RO":0.000},
{"p":"b1_3","year":1855,"COST":0.0124,"CA":0.0128,"RO":0.000},
{"p":"b1_3","year":1860,"COST":0.0124,"CA":0.013,"RO":0.000},
{"p":"b1_3","year":1865,"COST":0.012,"CA":0.014,"RO":0.000},
{"p":"b1_3","year":1870,"COST":0.0125,"CA":0.0135,"RO":0.000},
{"p":"b1_3","year":1875,"COST":0.011,"CA":0.013,"RO":0.000},
{"p":"b1_3","year":1880,"COST":0.0105,"CA":0.015,"RO":0.000},
{"p":"b1_3","year":1885,"COST":0.0105,"CA":0.0165,"RO":0.000},
{"p":"b2_1","year":1605,"COST":0.025,"CA":0.025,"RO":0.000},
{"p":"b2_1","year":1610,"COST":0.014,"CA":0.014,"RO":0.000},
{"p":"b2_1","year":1615,"COST":0.043,"CA":0.043,"RO":0.004},
{"p":"b2_1","year":1620,"COST":0.058,"CA":0.058,"RO":0.007},
{"p":"b2_1","year":1625,"COST":0.060,"CA":0.060,"RO":0.010},
{"p":"b2_1","year":1630,"COST":0.058,"CA":0.058,"RO":0.013},
{"p":"b2_1","year":1635,"COST":0.030,"CA":0.030,"RO":0.007},
{"p":"b2_1","year":1640,"COST":0.016,"CA":0.016,"RO":0.004},
{"p":"b2_1","year":1645,"COST":0.028,"CA":0.028,"RO":0.006},
{"p":"b2_1","year":1650,"COST":0.042,"CA":0.042,"RO":0.006},
{"p":"b2_1","year":1655,"COST":0.042,"CA":0.042,"RO":0.006},
{"p":"b2_1","year":1660,"COST":0.035,"CA":0.035,"RO":0.004},
{"p":"b2_1","year":1665,"COST":0.037,"CA":0.037,"RO":0.004},
{"p":"b2_1","year":1670,"COST":0.064,"CA":0.064,"RO":0.008},
{"p":"b2_1","year":1675,"COST":0.085,"CA":0.085,"RO":0.012},
{"p":"b2_1","year":1680,"COST":0.072,"CA":0.072,"RO":0.015},
{"p":"b2_1","year":1685,"COST":0.060,"CA":0.060,"RO":0.010},
{"p":"b2_1","year":1690,"COST":0.056,"CA":0.056,"RO":0.005},
{"p":"b2_1","year":1695,"COST":0.030,"CA":0.030,"RO":0.001},
{"p":"b2_1","year":1700,"COST":0.006,"CA":0.006,"RO":0.000},
{"p":"b2_1","year":1705,"COST":0.025,"CA":0.025,"RO":0.002},
{"p":"b2_1","year":1710,"COST":0.048,"CA":0.048,"RO":0.004},
{"p":"b2_1","year":1715,"COST":0.037,"CA":0.037,"RO":0.002},
{"p":"b2_1","year":1720,"COST":0.027,"CA":0.027,"RO":0.000},
{"p":"b2_1","year":1725,"COST":0.027,"CA":0.027,"RO":0.000},
{"p":"b2_1","year":1730,"COST":0.022,"CA":0.022,"RO":0.000},
{"p":"b2_1","year":1735,"COST":0.038,"CA":0.038,"RO":0.003},
{"p":"b2_1","year":1740,"COST":0.055,"CA":0.055,"RO":0.006},
{"p":"b2_1","year":1745,"COST":0.057,"CA":0.057,"RO":0.007},
{"p":"b2_1","year":1750,"COST":0.058,"CA":0.058,"RO":0.008},
{"p":"b2_1","year":1755,"COST":0.058,"CA":0.058,"RO":0.010},
{"p":"b2_1","year":1760,"COST":0.062,"CA":0.062,"RO":0.014},
{"p":"b2_1","year":1765,"COST":0.057,"CA":0.057,"RO":0.010},
{"p":"b2_1","year":1770,"COST":0.054,"CA":0.054,"RO":0.011},
{"p":"b2_1","year":1775,"COST":0.050,"CA":0.050,"RO":0.010},
{"p":"b2_1","year":1780,"COST":0.047,"CA":0.047,"RO":0.007},
{"p":"b2_1","year":1785,"COST":0.038,"CA":0.038,"RO":0.006},
{"p":"b2_1","year":1790,"COST":0.037,"CA":0.037,"RO":0.006},
{"p":"b2_1","year":1795,"COST":0.064,"CA":0.064,"RO":0.012},
{"p":"b2_1","year":1800,"COST":0.087,"CA":0.087,"RO":0.025},
{"p":"b2_1","year":1805,"COST":0.073,"CA":0.073,"RO":0.020},
{"p":"b2_1","year":1810,"COST":0.030,"CA":0.030,"RO":0.008},
{"p":"b2_1","year":1815,"COST":0.011,"CA":0.011,"RO":0.002},
{"p":"b2_1","year":1820,"COST":0.009,"CA":0.009,"RO":0.000},
{"p":"b2_1","year":1825,"COST":0.020,"CA":0.020,"RO":0.000},
{"p":"b2_1","year":1830,"COST":0.037,"CA":0.037,"RO":0.000},
{"p":"b2_1","year":1835,"COST":0.030,"CA":0.030,"RO":0.000},
{"p":"b2_1","year":1840,"COST":0.015,"CA":0.015,"RO":0.000},
{"p":"b2_1","year":1845,"COST":0.029,"CA":0.029,"RO":0.000},
{"p":"b2_1","year":1850,"COST":0.038,"CA":0.038,"RO":0.000},
{"p":"b2_1","year":1855,"COST":0.060,"CA":0.060,"RO":0.000},
{"p":"b2_1","year":1860,"COST":0.074,"CA":0.074,"RO":0.000},
{"p":"b2_1","year":1865,"COST":0.050,"CA":0.050,"RO":0.000},
{"p":"b2_1","year":1870,"COST":0.028,"CA":0.028,"RO":0.000},
{"p":"b2_1","year":1875,"COST":0.035,"CA":0.035,"RO":0.000},
{"p":"b2_1","year":1880,"COST":0.055,"CA":0.055,"RO":0.000},
{"p":"b2_1","year":1885,"COST":0.047,"CA":0.047,"RO":0.000},
{"p":"b2_1","year":1890,"COST":0.036,"CA":0.036,"RO":0.000},
{"p":"b2_1","year":1895,"COST":0.066,"CA":0.066,"RO":0.000},
{"p":"b2_2","year":1615,"COST":0.035,"CA":0.035,"RO":0.002},
{"p":"b2_2","year":1620,"COST":0.042,"CA":0.042,"RO":0.008},
{"p":"b2_2","year":1625,"COST":0.053,"CA":0.053,"RO":0.011},
{"p":"b2_2","year":1630,"COST":0.055,"CA":0.055,"RO":0.010},
{"p":"b2_2","year":1635,"COST":0.035,"CA":0.035,"RO":0.008},
{"p":"b2_2","year":1640,"COST":0.026,"CA":0.026,"RO":0.006},
{"p":"b2_2","year":1645,"COST":0.023,"CA":0.023,"RO":0.007},
{"p":"b2_2","year":1650,"COST":0.026,"CA":0.026,"RO":0.007},
{"p":"b2_2","year":1655,"COST":0.032,"CA":0.032,"RO":0.006},
{"p":"b2_2","year":1660,"COST":0.035,"CA":0.035,"RO":0.005},
{"p":"b2_2","year":1665,"COST":0.040,"CA":0.040,"RO":0.005},
{"p":"b2_2","year":1670,"COST":0.052,"CA":0.052,"RO":0.006},
{"p":"b2_2","year":1675,"COST":0.062,"CA":0.062,"RO":0.009},
{"p":"b2_2","year":1680,"COST":0.068,"CA":0.068,"RO":0.011},
{"p":"b2_2","year":1685,"COST":0.066,"CA":0.066,"RO":0.011},
{"p":"b2_2","year":1690,"COST":0.045,"CA":0.045,"RO":0.008},
{"p":"b2_2","year":1695,"COST":0.035,"CA":0.035,"RO":0.004},
{"p":"b2_2","year":1700,"COST":0.026,"CA":0.026,"RO":0.002},
{"p":"b2_2","year":1705,"COST":0.028,"CA":0.028,"RO":0.002},
{"p":"b2_2","year":1710,"COST":0.034,"CA":0.034,"RO":0.002},
{"p":"b2_2","year":1715,"COST":0.040,"CA":0.040,"RO":0.002},
{"p":"b2_2","year":1720,"COST":0.035,"CA":0.035,"RO":0.002},
{"p":"b2_2","year":1725,"COST":0.026,"CA":0.026,"RO":0.003},
{"p":"b2_2","year":1730,"COST":0.029,"CA":0.029,"RO":0.004},
{"p":"b2_2","year":1735,"COST":0.036,"CA":0.036,"RO":0.006},
{"p":"b2_2","year":1740,"COST":0.042,"CA":0.042,"RO":0.008},
{"p":"b2_2","year":1745,"COST":0.052,"CA":0.052,"RO":0.011},
{"p":"b2_2","year":1750,"COST":0.058,"CA":0.058,"RO":0.012},
{"p":"b2_2","year":1755,"COST":0.060,"CA":0.060,"RO":0.013},
{"p":"b2_2","year":1760,"COST":0.060,"CA":0.060,"RO":0.014},
{"p":"b2_2","year":1765,"COST":0.058,"CA":0.058,"RO":0.014},
{"p":"b2_2","year":1770,"COST":0.055,"CA":0.055,"RO":0.015},
{"p":"b2_2","year":1775,"COST":0.052,"CA":0.052,"RO":0.014},
{"p":"b2_2","year":1780,"COST":0.047,"CA":0.047,"RO":0.012},
{"p":"b2_2","year":1785,"COST":0.042,"CA":0.042,"RO":0.012},
{"p":"b2_2","year":1790,"COST":0.052,"CA":0.052,"RO":0.015},
{"p":"b2_2","year":1795,"COST":0.060,"CA":0.060,"RO":0.019},
{"p":"b2_2","year":1800,"COST":0.055,"CA":0.055,"RO":0.018},
{"p":"b2_2","year":1805,"COST":0.045,"CA":0.045,"RO":0.017},
{"p":"b2_2","year":1810,"COST":0.025,"CA":0.025,"RO":0.013},
{"p":"b2_2","year":1815,"COST":0.010,"CA":0.010,"RO":0.004},
{"p":"b2_2","year":1820,"COST":0.015,"CA":0.015,"RO":0.000},
{"p":"b2_2","year":1825,"COST":0.025,"CA":0.025,"RO":0.000},
{"p":"b2_2","year":1830,"COST":0.026,"CA":0.026,"RO":0.000},
{"p":"b2_2","year":1835,"COST":0.026,"CA":0.026,"RO":0.000},
{"p":"b2_2","year":1840,"COST":0.023,"CA":0.023,"RO":0.000},
{"p":"b2_2","year":1845,"COST":0.022,"CA":0.022,"RO":0.000},
{"p":"b2_2","year":1850,"COST":0.045,"CA":0.045,"RO":0.000},
{"p":"b2_2","year":1855,"COST":0.052,"CA":0.052,"RO":0.000},
{"p":"b2_2","year":1860,"COST":0.052,"CA":0.052,"RO":0.000},
{"p":"b2_2","year":1865,"COST":0.050,"CA":0.050,"RO":0.000},
{"p":"b2_2","year":1870,"COST":0.045,"CA":0.045,"RO":0.000},
{"p":"b2_2","year":1875,"COST":0.041,"CA":0.041,"RO":0.000},
{"p":"b2_2","year":1880,"COST":0.041,"CA":0.041,"RO":0.000},
{"p":"b2_2","year":1885,"COST":0.048,"CA":0.048,"RO":0.000},
{"p":"b2_2","year":1890,"COST":0.055,"CA":0.055,"RO":0.000},
{"p":"b2_3","year":1615,"COST":0.044,"CA":0.044,"RO":0.009},
{"p":"b2_3","year":1620,"COST":0.042,"CA":0.042,"RO":0.009},
{"p":"b2_3","year":1625,"COST":0.043,"CA":0.043,"RO":0.009},
{"p":"b2_3","year":1630,"COST":0.042,"CA":0.042,"RO":0.011},
{"p":"b2_3","year":1635,"COST":0.038,"CA":0.038,"RO":0.010},
{"p":"b2_3","year":1640,"COST":0.035,"CA":0.035,"RO":0.007},
{"p":"b2_3","year":1645,"COST":0.032,"CA":0.032,"RO":0.006},
{"p":"b2_3","year":1650,"COST":0.030,"CA":0.030,"RO":0.006},
{"p":"b2_3","year":1655,"COST":0.036,"CA":0.036,"RO":0.006},
{"p":"b2_3","year":1660,"COST":0.050,"CA":0.050,"RO":0.006},
{"p":"b2_3","year":1665,"COST":0.054,"CA":0.054,"RO":0.008},
{"p":"b2_3","year":1670,"COST":0.056,"CA":0.056,"RO":0.009},
{"p":"b2_3","year":1675,"COST":0.058,"CA":0.058,"RO":0.008},
{"p":"b2_3","year":1680,"COST":0.058,"CA":0.058,"RO":0.007},
{"p":"b2_3","year":1685,"COST":0.053,"CA":0.053,"RO":0.006},
{"p":"b2_3","year":1690,"COST":0.046,"CA":0.046,"RO":0.005},
{"p":"b2_3","year":1695,"COST":0.036,"CA":0.036,"RO":0.004},
{"p":"b2_3","year":1700,"COST":0.035,"CA":0.035,"RO":0.003},
{"p":"b2_3","year":1705,"COST":0.032,"CA":0.032,"RO":0.002},
{"p":"b2_3","year":1710,"COST":0.027,"CA":0.027,"RO":0.002},
{"p":"b2_3","year":1715,"COST":0.030,"CA":0.030,"RO":0.002},
{"p":"b2_3","year":1720,"COST":0.033,"CA":0.033,"RO":0.002},
{"p":"b2_3","year":1725,"COST":0.032,"CA":0.032,"RO":0.002},
{"p":"b2_3","year":1730,"COST":0.031,"CA":0.031,"RO":0.003},
{"p":"b2_3","year":1735,"COST":0.040,"CA":0.040,"RO":0.004},
{"p":"b2_3","year":1740,"COST":0.044,"CA":0.044,"RO":0.006},
{"p":"b2_3","year":1745,"COST":0.052,"CA":0.052,"RO":0.008},
{"p":"b2_3","year":1750,"COST":0.058,"CA":0.058,"RO":0.010},
{"p":"b2_3","year":1755,"COST":0.058,"CA":0.058,"RO":0.012},
{"p":"b2_3","year":1760,"COST":0.057,"CA":0.057,"RO":0.013},
{"p":"b2_3","year":1765,"COST":0.055,"CA":0.055,"RO":0.013},
{"p":"b2_3","year":1770,"COST":0.050,"CA":0.050,"RO":0.012},
{"p":"b2_3","year":1775,"COST":0.043,"CA":0.043,"RO":0.011},
{"p":"b2_3","year":1780,"COST":0.050,"CA":0.050,"RO":0.013},
{"p":"b2_3","year":1785,"COST":0.050,"CA":0.050,"RO":0.015},
{"p":"b2_3","year":1790,"COST":0.045,"CA":0.045,"RO":0.015},
{"p":"b2_3","year":1795,"COST":0.037,"CA":0.037,"RO":0.015},
{"p":"b2_3","year":1800,"COST":0.035,"CA":0.035,"RO":0.015},
{"p":"b2_3","year":1805,"COST":0.032,"CA":0.032,"RO":0.015},
{"p":"b2_3","year":1810,"COST":0.028,"CA":0.028,"RO":0.013},
{"p":"b2_3","year":1815,"COST":0.022,"CA":0.022,"RO":0.008},
{"p":"b2_3","year":1820,"COST":0.015,"CA":0.015,"RO":0.002},
{"p":"b2_3","year":1825,"COST":0.016,"CA":0.016,"RO":0.000},
{"p":"b2_3","year":1830,"COST":0.017,"CA":0.017,"RO":0.000},
{"p":"b2_3","year":1835,"COST":0.022,"CA":0.022,"RO":0.000},
{"p":"b2_3","year":1840,"COST":0.028,"CA":0.028,"RO":0.000},
{"p":"b2_3","year":1845,"COST":0.035,"CA":0.035,"RO":0.000},
{"p":"b2_3","year":1850,"COST":0.040,"CA":0.040,"RO":0.000},
{"p":"b2_3","year":1855,"COST":0.043,"CA":0.043,"RO":0.000},
{"p":"b2_3","year":1860,"COST":0.043,"CA":0.043,"RO":0.000},
{"p":"b2_3","year":1865,"COST":0.045,"CA":0.045,"RO":0.000},
{"p":"b2_3","year":1870,"COST":0.052,"CA":0.052,"RO":0.000},
{"p":"b2_3","year":1875,"COST":0.043,"CA":0.043,"RO":0.000},
{"p":"b2_3","year":1880,"COST":0.038,"CA":0.038,"RO":0.000},
{"p":"b2_3","year":1885,"COST":0.047,"CA":0.047,"RO":0.000}
]},
"data": {"name": "d"},
"spacing": 17,
"vconcat": [
 {"spacing": 18, "vconcat": [
  {"spacing": 21, "hconcat": [
   {"spacing": 0, "vconcat": [
    {"width": 221, "height": 57, "transform": [{"filter": "datum.p == 'a1_1'"}],
     "encoding": {"x": {"field": "year", "type": "quantitative", "scale": {"domain": [1600, 1900], "nice": false, "zero": false}, "axis": {"values": [1600,1625,1650,1675,1700,1725,1750,1775,1800,1825,1850,1875,1900], "labels": false, "title": null}}},
     "layer": [
     {"mark": {"type": "line", "color": "#a9c1e2", "strokeWidth": 1.6}, "encoding": {"y": {"field": "CA", "type": "quantitative", "scale": {"domain": [0, 0.05], "nice": false}, "axis": {"values": [0,0.01,0.02,0.03,0.04,0.05], "format": "~g", "title": null}}}},
     {"mark": {"type": "line", "color": "#e8a10a", "strokeWidth": 1.4}, "encoding": {"y": {"field": "RO", "type": "quantitative", "scale": {"domain": [0, 0.05], "nice": false}, "axis": {"values": [0,0.01,0.02,0.03,0.04,0.05], "format": "~g", "title": null}}}},
     {"mark": {"type": "line", "color": "#000000", "strokeWidth": 2.4}, "encoding": {"y": {"field": "COST", "type": "quantitative", "scale": {"domain": [0, 0.05], "nice": false}, "axis": {"values": [0,0.01,0.02,0.03,0.04,0.05], "format": "~g", "title": null}}}},
     {"mark": {"type": "rule", "color": "#a3a3a3", "strokeWidth": 3.5}, "encoding": {"x": {"datum": 1820, "type": "quantitative", "scale": {"domain": [1600, 1900], "nice": false, "zero": false}, "axis": {"values": [1600,1625,1650,1675,1700,1725,1750,1775,1800,1825,1850,1875,1900], "labels": false, "title": null}}}},
     {"mark": {"type": "rule", "color": "#a3a3a3", "strokeWidth": 1.8}, "encoding": {"x": {"datum": 1890, "type": "quantitative", "scale": {"domain": [1600, 1900], "nice": false, "zero": false}, "axis": {"values": [1600,1625,1650,1675,1700,1725,1750,1775,1800,1825,1850,1875,1900], "labels": false, "title": null}}}}
    ]},
    {"width": 221, "height": 57, "transform": [{"filter": "datum.p == 'a1_2'"}],
     "encoding": {"x": {"field": "year", "type": "quantitative", "scale": {"domain": [1600, 1900], "nice": false, "zero": false}, "axis": {"values": [1600,1625,1650,1675,1700,1725,1750,1775,1800,1825,1850,1875,1900], "labels": false, "title": null}}},
     "layer": [
     {"mark": {"type": "line", "color": "#a9c1e2", "strokeWidth": 1.6}, "encoding": {"y": {"field": "CA", "type": "quantitative", "scale": {"domain": [0, 0.05], "nice": false}, "axis": {"values": [0,0.01,0.02,0.03,0.04,0.05], "format": "~g", "title": "(a₁)", "titleAngle": 0, "titleAlign": "right", "titleBaseline": "middle", "titlePadding": 10}}}},
     {"mark": {"type": "line", "color": "#e8a10a", "strokeWidth": 1.4}, "encoding": {"y": {"field": "RO", "type": "quantitative", "scale": {"domain": [0, 0.05], "nice": false}, "axis": {"values": [0,0.01,0.02,0.03,0.04,0.05], "format": "~g", "title": "(a₁)", "titleAngle": 0, "titleAlign": "right", "titleBaseline": "middle", "titlePadding": 10}}}},
     {"mark": {"type": "line", "color": "#000000", "strokeWidth": 2.4}, "encoding": {"y": {"field": "COST", "type": "quantitative", "scale": {"domain": [0, 0.05], "nice": false}, "axis": {"values": [0,0.01,0.02,0.03,0.04,0.05], "format": "~g", "title": "(a₁)", "titleAngle": 0, "titleAlign": "right", "titleBaseline": "middle", "titlePadding": 10}}}},
     {"mark": {"type": "rule", "color": "#a3a3a3", "strokeWidth": 3.5}, "encoding": {"x": {"datum": 1820, "type": "quantitative", "scale": {"domain": [1600, 1900], "nice": false, "zero": false}, "axis": {"values": [1600,1625,1650,1675,1700,1725,1750,1775,1800,1825,1850,1875,1900], "labels": false, "title": null}}}},
     {"mark": {"type": "rule", "color": "#a3a3a3", "strokeWidth": 1.8}, "encoding": {"x": {"datum": 1890, "type": "quantitative", "scale": {"domain": [1600, 1900], "nice": false, "zero": false}, "axis": {"values": [1600,1625,1650,1675,1700,1725,1750,1775,1800,1825,1850,1875,1900], "labels": false, "title": null}}}}
    ]},
    {"width": 221, "height": 57, "transform": [{"filter": "datum.p == 'a1_3'"}],
     "encoding": {"x": {"field": "year", "type": "quantitative", "scale": {"domain": [1600, 1900], "nice": false, "zero": false}, "axis": {"values": [1600,1625,1650,1675,1700,1725,1750,1775,1800,1825,1850,1875,1900], "format": "d", "labelAngle": 270, "labelFontSize": 6, "labelPadding": 3, "title": null}}},
     "layer": [
     {"mark": {"type": "line", "color": "#a9c1e2", "strokeWidth": 1.6}, "encoding": {"y": {"field": "CA", "type": "quantitative", "scale": {"domain": [0, 0.05], "nice": false}, "axis": {"values": [0,0.01,0.02,0.03,0.04,0.05], "format": "~g", "title": null}}}},
     {"mark": {"type": "line", "color": "#e8a10a", "strokeWidth": 1.4}, "encoding": {"y": {"field": "RO", "type": "quantitative", "scale": {"domain": [0, 0.05], "nice": false}, "axis": {"values": [0,0.01,0.02,0.03,0.04,0.05], "format": "~g", "title": null}}}},
     {"mark": {"type": "line", "color": "#000000", "strokeWidth": 2.4}, "encoding": {"y": {"field": "COST", "type": "quantitative", "scale": {"domain": [0, 0.05], "nice": false}, "axis": {"values": [0,0.01,0.02,0.03,0.04,0.05], "format": "~g", "title": null}}}},
     {"mark": {"type": "rule", "color": "#a3a3a3", "strokeWidth": 3.5}, "encoding": {"x": {"datum": 1820, "type": "quantitative", "scale": {"domain": [1600, 1900], "nice": false, "zero": false}, "axis": {"values": [1600,1625,1650,1675,1700,1725,1750,1775,1800,1825,1850,1875,1900], "format": "d", "labelAngle": 270, "labelFontSize": 6, "labelPadding": 3, "title": null}}}},
     {"mark": {"type": "rule", "color": "#a3a3a3", "strokeWidth": 1.8}, "encoding": {"x": {"datum": 1890, "type": "quantitative", "scale": {"domain": [1600, 1900], "nice": false, "zero": false}, "axis": {"values": [1600,1625,1650,1675,1700,1725,1750,1775,1800,1825,1850,1875,1900], "format": "d", "labelAngle": 270, "labelFontSize": 6, "labelPadding": 3, "title": null}}}}
    ]}
   ]},
   {"spacing": 0, "vconcat": [
    {"width": 221, "height": 57, "transform": [{"filter": "datum.p == 'a2_1'"}],
     "encoding": {"x": {"field": "year", "type": "quantitative", "scale": {"domain": [1600, 1900], "nice": false, "zero": false}, "axis": {"values": [1600,1625,1650,1675,1700,1725,1750,1775,1800,1825,1850,1875,1900], "labels": false, "title": null}}},
     "layer": [
     {"mark": {"type": "line", "color": "#e8a10a", "strokeWidth": 1.3}, "encoding": {"y": {"field": "RO", "type": "quantitative", "scale": {"domain": [0, 0.2], "nice": false}, "axis": {"values": [0,0.05,0.1,0.15,0.2], "format": "~g", "title": null}}}},
     {"mark": {"type": "line", "color": "#a9c1e2", "strokeWidth": 4}, "encoding": {"y": {"field": "CA", "type": "quantitative", "scale": {"domain": [0, 0.2], "nice": false}, "axis": {"values": [0,0.05,0.1,0.15,0.2], "format": "~g", "title": null}}}},
     {"mark": {"type": "line", "color": "#000000", "strokeWidth": 2.4, "opacity": 0.55}, "encoding": {"y": {"field": "COST", "type": "quantitative", "scale": {"domain": [0, 0.2], "nice": false}, "axis": {"values": [0,0.05,0.1,0.15,0.2], "format": "~g", "title": null}}}},
     {"mark": {"type": "rule", "color": "#a3a3a3", "strokeWidth": 3.5}, "encoding": {"x": {"datum": 1820, "type": "quantitative", "scale": {"domain": [1600, 1900], "nice": false, "zero": false}, "axis": {"values": [1600,1625,1650,1675,1700,1725,1750,1775,1800,1825,1850,1875,1900], "labels": false, "title": null}}}},
     {"mark": {"type": "rule", "color": "#a3a3a3", "strokeWidth": 1.8}, "encoding": {"x": {"datum": 1890, "type": "quantitative", "scale": {"domain": [1600, 1900], "nice": false, "zero": false}, "axis": {"values": [1600,1625,1650,1675,1700,1725,1750,1775,1800,1825,1850,1875,1900], "labels": false, "title": null}}}}
    ]},
    {"width": 221, "height": 57, "transform": [{"filter": "datum.p == 'a2_2'"}],
     "encoding": {"x": {"field": "year", "type": "quantitative", "scale": {"domain": [1600, 1900], "nice": false, "zero": false}, "axis": {"values": [1600,1625,1650,1675,1700,1725,1750,1775,1800,1825,1850,1875,1900], "labels": false, "title": null}}},
     "layer": [
     {"mark": {"type": "line", "color": "#e8a10a", "strokeWidth": 1.3}, "encoding": {"y": {"field": "RO", "type": "quantitative", "scale": {"domain": [0, 0.2], "nice": false}, "axis": {"values": [0,0.05,0.1,0.15,0.2], "format": "~g", "title": null}}}},
     {"mark": {"type": "line", "color": "#a9c1e2", "strokeWidth": 4}, "encoding": {"y": {"field": "CA", "type": "quantitative", "scale": {"domain": [0, 0.2], "nice": false}, "axis": {"values": [0,0.05,0.1,0.15,0.2], "format": "~g", "title": null}}}},
     {"mark": {"type": "line", "color": "#000000", "strokeWidth": 2.4, "opacity": 0.55}, "encoding": {"y": {"field": "COST", "type": "quantitative", "scale": {"domain": [0, 0.2], "nice": false}, "axis": {"values": [0,0.05,0.1,0.15,0.2], "format": "~g", "title": null}}}},
     {"mark": {"type": "rule", "color": "#a3a3a3", "strokeWidth": 3.5}, "encoding": {"x": {"datum": 1820, "type": "quantitative", "scale": {"domain": [1600, 1900], "nice": false, "zero": false}, "axis": {"values": [1600,1625,1650,1675,1700,1725,1750,1775,1800,1825,1850,1875,1900], "labels": false, "title": null}}}},
     {"mark": {"type": "rule", "color": "#a3a3a3", "strokeWidth": 1.8}, "encoding": {"x": {"datum": 1890, "type": "quantitative", "scale": {"domain": [1600, 1900], "nice": false, "zero": false}, "axis": {"values": [1600,1625,1650,1675,1700,1725,1750,1775,1800,1825,1850,1875,1900], "labels": false, "title": null}}}},
     {"mark": {"type": "text", "align": "left", "baseline": "middle", "dx": 7, "font": "Noto Sans", "fontSize": 20, "color": "#111111"}, "encoding": {"x": {"datum": 1900, "type": "quantitative", "scale": {"domain": [1600, 1900], "nice": false, "zero": false}, "axis": {"values": [1600,1625,1650,1675,1700,1725,1750,1775,1800,1825,1850,1875,1900], "labels": false, "title": null}}, "y": {"datum": 0.1, "type": "quantitative", "scale": {"domain": [0, 0.2], "nice": false}, "axis": {"values": [0,0.05,0.1,0.15,0.2], "format": "~g", "title": null}}, "text": {"condition": {"test": "datum.year == 1650", "value": "(a₂)"}, "value": ""}}}
    ]},
    {"width": 221, "height": 57, "transform": [{"filter": "datum.p == 'a2_3'"}],
     "encoding": {"x": {"field": "year", "type": "quantitative", "scale": {"domain": [1600, 1900], "nice": false, "zero": false}, "axis": {"values": [1600,1625,1650,1675,1700,1725,1750,1775,1800,1825,1850,1875,1900], "format": "d", "labelAngle": 270, "labelFontSize": 6, "labelPadding": 3, "title": null}}},
     "layer": [
     {"mark": {"type": "line", "color": "#e8a10a", "strokeWidth": 1.3}, "encoding": {"y": {"field": "RO", "type": "quantitative", "scale": {"domain": [0, 0.2], "nice": false}, "axis": {"values": [0,0.05,0.1,0.15,0.2], "format": "~g", "title": null}}}},
     {"mark": {"type": "line", "color": "#a9c1e2", "strokeWidth": 4}, "encoding": {"y": {"field": "CA", "type": "quantitative", "scale": {"domain": [0, 0.2], "nice": false}, "axis": {"values": [0,0.05,0.1,0.15,0.2], "format": "~g", "title": null}}}},
     {"mark": {"type": "line", "color": "#000000", "strokeWidth": 2.4, "opacity": 0.55}, "encoding": {"y": {"field": "COST", "type": "quantitative", "scale": {"domain": [0, 0.2], "nice": false}, "axis": {"values": [0,0.05,0.1,0.15,0.2], "format": "~g", "title": null}}}},
     {"mark": {"type": "rule", "color": "#a3a3a3", "strokeWidth": 3.5}, "encoding": {"x": {"datum": 1820, "type": "quantitative", "scale": {"domain": [1600, 1900], "nice": false, "zero": false}, "axis": {"values": [1600,1625,1650,1675,1700,1725,1750,1775,1800,1825,1850,1875,1900], "format": "d", "labelAngle": 270, "labelFontSize": 6, "labelPadding": 3, "title": null}}}},
     {"mark": {"type": "rule", "color": "#a3a3a3", "strokeWidth": 1.8}, "encoding": {"x": {"datum": 1890, "type": "quantitative", "scale": {"domain": [1600, 1900], "nice": false, "zero": false}, "axis": {"values": [1600,1625,1650,1675,1700,1725,1750,1775,1800,1825,1850,1875,1900], "format": "d", "labelAngle": 270, "labelFontSize": 6, "labelPadding": 3, "title": null}}}}
    ]}
   ]}
  ]},
  {"spacing": 21, "hconcat": [
   {"spacing": 0, "vconcat": [
    {"width": 221, "height": 57, "transform": [{"filter": "datum.p == 'b1_1'"}],
     "encoding": {"x": {"field": "year", "type": "quantitative", "scale": {"domain": [1600, 1900], "nice": false, "zero": false}, "axis": {"values": [1600,1625,1650,1675,1700,1725,1750,1775,1800,1825,1850,1875,1900], "labels": false, "title": null}}},
     "layer": [
     {"mark": {"type": "line", "color": "#a9c1e2", "strokeWidth": 1.6}, "encoding": {"y": {"field": "CA", "type": "quantitative", "scale": {"domain": [0, 0.05], "nice": false}, "axis": {"values": [0,0.01,0.02,0.03,0.04,0.05], "format": "~g", "title": null}}}},
     {"mark": {"type": "line", "color": "#e8a10a", "strokeWidth": 1.4}, "encoding": {"y": {"field": "RO", "type": "quantitative", "scale": {"domain": [0, 0.05], "nice": false}, "axis": {"values": [0,0.01,0.02,0.03,0.04,0.05], "format": "~g", "title": null}}}},
     {"mark": {"type": "line", "color": "#000000", "strokeWidth": 2.4}, "encoding": {"y": {"field": "COST", "type": "quantitative", "scale": {"domain": [0, 0.05], "nice": false}, "axis": {"values": [0,0.01,0.02,0.03,0.04,0.05], "format": "~g", "title": null}}}},
     {"mark": {"type": "rule", "color": "#a3a3a3", "strokeWidth": 3.5}, "encoding": {"x": {"datum": 1820, "type": "quantitative", "scale": {"domain": [1600, 1900], "nice": false, "zero": false}, "axis": {"values": [1600,1625,1650,1675,1700,1725,1750,1775,1800,1825,1850,1875,1900], "labels": false, "title": null}}}},
     {"mark": {"type": "rule", "color": "#a3a3a3", "strokeWidth": 1.8}, "encoding": {"x": {"datum": 1890, "type": "quantitative", "scale": {"domain": [1600, 1900], "nice": false, "zero": false}, "axis": {"values": [1600,1625,1650,1675,1700,1725,1750,1775,1800,1825,1850,1875,1900], "labels": false, "title": null}}}}
    ]},
    {"width": 221, "height": 57, "transform": [{"filter": "datum.p == 'b1_2'"}],
     "encoding": {"x": {"field": "year", "type": "quantitative", "scale": {"domain": [1600, 1900], "nice": false, "zero": false}, "axis": {"values": [1600,1625,1650,1675,1700,1725,1750,1775,1800,1825,1850,1875,1900], "labels": false, "title": null}}},
     "layer": [
     {"mark": {"type": "line", "color": "#a9c1e2", "strokeWidth": 1.6}, "encoding": {"y": {"field": "CA", "type": "quantitative", "scale": {"domain": [0, 0.05], "nice": false}, "axis": {"values": [0,0.01,0.02,0.03,0.04,0.05], "format": "~g", "title": "(b₁)", "titleAngle": 0, "titleAlign": "right", "titleBaseline": "middle", "titlePadding": 10}}}},
     {"mark": {"type": "line", "color": "#e8a10a", "strokeWidth": 1.4}, "encoding": {"y": {"field": "RO", "type": "quantitative", "scale": {"domain": [0, 0.05], "nice": false}, "axis": {"values": [0,0.01,0.02,0.03,0.04,0.05], "format": "~g", "title": "(b₁)", "titleAngle": 0, "titleAlign": "right", "titleBaseline": "middle", "titlePadding": 10}}}},
     {"mark": {"type": "line", "color": "#000000", "strokeWidth": 2.4}, "encoding": {"y": {"field": "COST", "type": "quantitative", "scale": {"domain": [0, 0.05], "nice": false}, "axis": {"values": [0,0.01,0.02,0.03,0.04,0.05], "format": "~g", "title": "(b₁)", "titleAngle": 0, "titleAlign": "right", "titleBaseline": "middle", "titlePadding": 10}}}},
     {"mark": {"type": "rule", "color": "#a3a3a3", "strokeWidth": 3.5}, "encoding": {"x": {"datum": 1820, "type": "quantitative", "scale": {"domain": [1600, 1900], "nice": false, "zero": false}, "axis": {"values": [1600,1625,1650,1675,1700,1725,1750,1775,1800,1825,1850,1875,1900], "labels": false, "title": null}}}},
     {"mark": {"type": "rule", "color": "#a3a3a3", "strokeWidth": 1.8}, "encoding": {"x": {"datum": 1890, "type": "quantitative", "scale": {"domain": [1600, 1900], "nice": false, "zero": false}, "axis": {"values": [1600,1625,1650,1675,1700,1725,1750,1775,1800,1825,1850,1875,1900], "labels": false, "title": null}}}}
    ]},
    {"width": 221, "height": 57, "transform": [{"filter": "datum.p == 'b1_3'"}],
     "encoding": {"x": {"field": "year", "type": "quantitative", "scale": {"domain": [1600, 1900], "nice": false, "zero": false}, "axis": {"values": [1600,1625,1650,1675,1700,1725,1750,1775,1800,1825,1850,1875,1900], "format": "d", "labelAngle": 270, "labelFontSize": 6, "labelPadding": 3, "title": null}}},
     "layer": [
     {"mark": {"type": "line", "color": "#a9c1e2", "strokeWidth": 1.6}, "encoding": {"y": {"field": "CA", "type": "quantitative", "scale": {"domain": [0, 0.05], "nice": false}, "axis": {"values": [0,0.01,0.02,0.03,0.04,0.05], "format": "~g", "title": null}}}},
     {"mark": {"type": "line", "color": "#e8a10a", "strokeWidth": 1.4}, "encoding": {"y": {"field": "RO", "type": "quantitative", "scale": {"domain": [0, 0.05], "nice": false}, "axis": {"values": [0,0.01,0.02,0.03,0.04,0.05], "format": "~g", "title": null}}}},
     {"mark": {"type": "line", "color": "#000000", "strokeWidth": 2.4}, "encoding": {"y": {"field": "COST", "type": "quantitative", "scale": {"domain": [0, 0.05], "nice": false}, "axis": {"values": [0,0.01,0.02,0.03,0.04,0.05], "format": "~g", "title": null}}}},
     {"mark": {"type": "rule", "color": "#a3a3a3", "strokeWidth": 3.5}, "encoding": {"x": {"datum": 1820, "type": "quantitative", "scale": {"domain": [1600, 1900], "nice": false, "zero": false}, "axis": {"values": [1600,1625,1650,1675,1700,1725,1750,1775,1800,1825,1850,1875,1900], "format": "d", "labelAngle": 270, "labelFontSize": 6, "labelPadding": 3, "title": null}}}},
     {"mark": {"type": "rule", "color": "#a3a3a3", "strokeWidth": 1.8}, "encoding": {"x": {"datum": 1890, "type": "quantitative", "scale": {"domain": [1600, 1900], "nice": false, "zero": false}, "axis": {"values": [1600,1625,1650,1675,1700,1725,1750,1775,1800,1825,1850,1875,1900], "format": "d", "labelAngle": 270, "labelFontSize": 6, "labelPadding": 3, "title": null}}}}
    ]}
   ]},
   {"spacing": 0, "vconcat": [
    {"width": 221, "height": 57, "transform": [{"filter": "datum.p == 'b2_1'"}],
     "encoding": {"x": {"field": "year", "type": "quantitative", "scale": {"domain": [1600, 1900], "nice": false, "zero": false}, "axis": {"values": [1600,1625,1650,1675,1700,1725,1750,1775,1800,1825,1850,1875,1900], "labels": false, "title": null}}},
     "layer": [
     {"mark": {"type": "line", "color": "#e8a10a", "strokeWidth": 1.3}, "encoding": {"y": {"field": "RO", "type": "quantitative", "scale": {"domain": [0, 0.2], "nice": false}, "axis": {"values": [0,0.05,0.1,0.15,0.2], "format": "~g", "title": null}}}},
     {"mark": {"type": "line", "color": "#a9c1e2", "strokeWidth": 4}, "encoding": {"y": {"field": "CA", "type": "quantitative", "scale": {"domain": [0, 0.2], "nice": false}, "axis": {"values": [0,0.05,0.1,0.15,0.2], "format": "~g", "title": null}}}},
     {"mark": {"type": "line", "color": "#000000", "strokeWidth": 2.4, "opacity": 0.55}, "encoding": {"y": {"field": "COST", "type": "quantitative", "scale": {"domain": [0, 0.2], "nice": false}, "axis": {"values": [0,0.05,0.1,0.15,0.2], "format": "~g", "title": null}}}},
     {"mark": {"type": "rule", "color": "#a3a3a3", "strokeWidth": 3.5}, "encoding": {"x": {"datum": 1820, "type": "quantitative", "scale": {"domain": [1600, 1900], "nice": false, "zero": false}, "axis": {"values": [1600,1625,1650,1675,1700,1725,1750,1775,1800,1825,1850,1875,1900], "labels": false, "title": null}}}},
     {"mark": {"type": "rule", "color": "#a3a3a3", "strokeWidth": 1.8}, "encoding": {"x": {"datum": 1890, "type": "quantitative", "scale": {"domain": [1600, 1900], "nice": false, "zero": false}, "axis": {"values": [1600,1625,1650,1675,1700,1725,1750,1775,1800,1825,1850,1875,1900], "labels": false, "title": null}}}}
    ]},
    {"width": 221, "height": 57, "transform": [{"filter": "datum.p == 'b2_2'"}],
     "encoding": {"x": {"field": "year", "type": "quantitative", "scale": {"domain": [1600, 1900], "nice": false, "zero": false}, "axis": {"values": [1600,1625,1650,1675,1700,1725,1750,1775,1800,1825,1850,1875,1900], "labels": false, "title": null}}},
     "layer": [
     {"mark": {"type": "line", "color": "#e8a10a", "strokeWidth": 1.3}, "encoding": {"y": {"field": "RO", "type": "quantitative", "scale": {"domain": [0, 0.2], "nice": false}, "axis": {"values": [0,0.05,0.1,0.15,0.2], "format": "~g", "title": null}}}},
     {"mark": {"type": "line", "color": "#a9c1e2", "strokeWidth": 4}, "encoding": {"y": {"field": "CA", "type": "quantitative", "scale": {"domain": [0, 0.2], "nice": false}, "axis": {"values": [0,0.05,0.1,0.15,0.2], "format": "~g", "title": null}}}},
     {"mark": {"type": "line", "color": "#000000", "strokeWidth": 2.4, "opacity": 0.55}, "encoding": {"y": {"field": "COST", "type": "quantitative", "scale": {"domain": [0, 0.2], "nice": false}, "axis": {"values": [0,0.05,0.1,0.15,0.2], "format": "~g", "title": null}}}},
     {"mark": {"type": "rule", "color": "#a3a3a3", "strokeWidth": 3.5}, "encoding": {"x": {"datum": 1820, "type": "quantitative", "scale": {"domain": [1600, 1900], "nice": false, "zero": false}, "axis": {"values": [1600,1625,1650,1675,1700,1725,1750,1775,1800,1825,1850,1875,1900], "labels": false, "title": null}}}},
     {"mark": {"type": "rule", "color": "#a3a3a3", "strokeWidth": 1.8}, "encoding": {"x": {"datum": 1890, "type": "quantitative", "scale": {"domain": [1600, 1900], "nice": false, "zero": false}, "axis": {"values": [1600,1625,1650,1675,1700,1725,1750,1775,1800,1825,1850,1875,1900], "labels": false, "title": null}}}},
     {"mark": {"type": "text", "align": "left", "baseline": "middle", "dx": 7, "font": "Noto Sans", "fontSize": 20, "color": "#111111"}, "encoding": {"x": {"datum": 1900, "type": "quantitative", "scale": {"domain": [1600, 1900], "nice": false, "zero": false}, "axis": {"values": [1600,1625,1650,1675,1700,1725,1750,1775,1800,1825,1850,1875,1900], "labels": false, "title": null}}, "y": {"datum": 0.1, "type": "quantitative", "scale": {"domain": [0, 0.2], "nice": false}, "axis": {"values": [0,0.05,0.1,0.15,0.2], "format": "~g", "title": null}}, "text": {"condition": {"test": "datum.year == 1650", "value": "(b₂)"}, "value": ""}}}
    ]},
    {"width": 221, "height": 57, "transform": [{"filter": "datum.p == 'b2_3'"}],
     "encoding": {"x": {"field": "year", "type": "quantitative", "scale": {"domain": [1600, 1900], "nice": false, "zero": false}, "axis": {"values": [1600,1625,1650,1675,1700,1725,1750,1775,1800,1825,1850,1875,1900], "format": "d", "labelAngle": 270, "labelFontSize": 6, "labelPadding": 3, "title": null}}},
     "layer": [
     {"mark": {"type": "line", "color": "#e8a10a", "strokeWidth": 1.3}, "encoding": {"y": {"field": "RO", "type": "quantitative", "scale": {"domain": [0, 0.2], "nice": false}, "axis": {"values": [0,0.05,0.1,0.15,0.2], "format": "~g", "title": null}}}},
     {"mark": {"type": "line", "color": "#a9c1e2", "strokeWidth": 4}, "encoding": {"y": {"field": "CA", "type": "quantitative", "scale": {"domain": [0, 0.2], "nice": false}, "axis": {"values": [0,0.05,0.1,0.15,0.2], "format": "~g", "title": null}}}},
     {"mark": {"type": "line", "color": "#000000", "strokeWidth": 2.4, "opacity": 0.55}, "encoding": {"y": {"field": "COST", "type": "quantitative", "scale": {"domain": [0, 0.2], "nice": false}, "axis": {"values": [0,0.05,0.1,0.15,0.2], "format": "~g", "title": null}}}},
     {"mark": {"type": "rule", "color": "#a3a3a3", "strokeWidth": 3.5}, "encoding": {"x": {"datum": 1820, "type": "quantitative", "scale": {"domain": [1600, 1900], "nice": false, "zero": false}, "axis": {"values": [1600,1625,1650,1675,1700,1725,1750,1775,1800,1825,1850,1875,1900], "format": "d", "labelAngle": 270, "labelFontSize": 6, "labelPadding": 3, "title": null}}}},
     {"mark": {"type": "rule", "color": "#a3a3a3", "strokeWidth": 1.8}, "encoding": {"x": {"datum": 1890, "type": "quantitative", "scale": {"domain": [1600, 1900], "nice": false, "zero": false}, "axis": {"values": [1600,1625,1650,1675,1700,1725,1750,1775,1800,1825,1850,1875,1900], "format": "d", "labelAngle": 270, "labelFontSize": 6, "labelPadding": 3, "title": null}}}}
    ]}
   ]}
  ]}
 ]},
 {"width": 371, "height": 16, "view": {"stroke": null},
  "data": {"values": [{"s": "COST"}, {"s": "CA"}, {"s": "RO"}]},
  "layer": [
   {"mark": {"type": "text", "align": "right", "baseline": "middle", "dx": -8, "font": "Open Sans", "fontSize": 15, "color": "#111111"},
    "encoding": {"x": {"field": "s", "type": "nominal", "sort": null, "scale": {"type": "point", "domain": ["COST", "CA", "RO"], "range": [168, 334], "padding": 0}, "axis": null}, "text": {"field": "s", "type": "nominal"}}},
   {"mark": {"type": "point", "shape": "stroke", "size": 1296, "strokeWidth": 7, "filled": false, "opacity": 1, "xOffset": 18, "strokeCap": "butt"},
    "encoding": {"x": {"field": "s", "type": "nominal", "axis": null}, "color": {"field": "s", "type": "nominal", "scale": {"domain": ["COST", "CA", "RO"], "range": ["#000000", "#a9c1e2", "#e8a10a"]}, "legend": null}}}
  ]}
]
}
